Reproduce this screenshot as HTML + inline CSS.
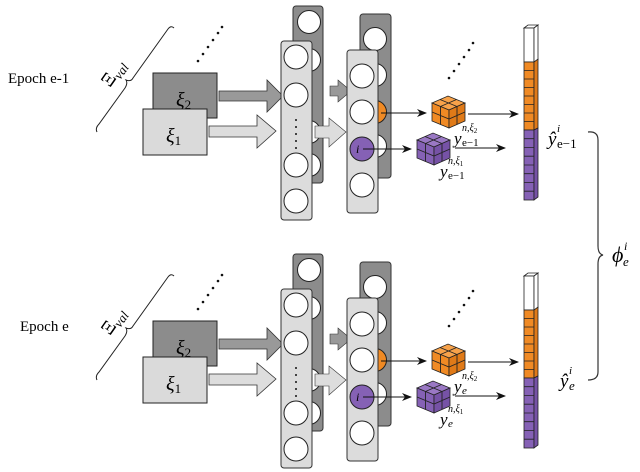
<!DOCTYPE html>
<html><head><meta charset="utf-8"><style>
html,body{margin:0;padding:0;background:#fff}
svg{display:block}
text{font-family:"Liberation Serif",serif}
</style></head><body>
<svg width="640" height="472" viewBox="0 0 640 472" xmlns="http://www.w3.org/2000/svg">
<defs>
<g id="cubeO">
  <polygon points="0,8 16,1 33,8 17,15" fill="#f7a24a" stroke="#222" stroke-width="0.8"/>
  <polygon points="0,8 17,15 17,33 0,26" fill="#f08a24" stroke="#222" stroke-width="0.8"/>
  <polygon points="17,15 33,8 33,26 17,33" fill="#e07a18" stroke="#222" stroke-width="0.8"/>
  <path d="M8,4.5 L25,11.5 M24.5,4.5 L8.5,11.5 M0,17 L17,24 L33,17 M8.5,11.5 V29.5 M25,11.5 V29.5" stroke="#222" stroke-width="0.9" fill="none"/>
</g>
<g id="cubeP">
  <polygon points="0,8 16,1 33,8 17,15" fill="#9a78c4" stroke="#222" stroke-width="0.8"/>
  <polygon points="0,8 17,15 17,33 0,26" fill="#8561b5" stroke="#222" stroke-width="0.8"/>
  <polygon points="17,15 33,8 33,26 17,33" fill="#7652a6" stroke="#222" stroke-width="0.8"/>
  <path d="M8,4.5 L25,11.5 M24.5,4.5 L8.5,11.5 M0,17 L17,24 L33,17 M8.5,11.5 V29.5 M25,11.5 V29.5" stroke="#222" stroke-width="0.9" fill="none"/>
</g>
<marker id="ah" markerWidth="10" markerHeight="8" refX="9" refY="4" orient="auto" markerUnits="userSpaceOnUse">
  <path d="M0,0 L10,4 L0,8 L3,4 z" fill="#111"/>
</marker>
<g id="half">
  <path d="M97,132 Q95,128 99,124 L125,88 Q128,83 126,80 Q131,82 133,78 L168,29 Q171,25 174,28" fill="none" stroke="#222" stroke-width="1"/>
  <text transform="translate(110,88) rotate(-55)" font-size="19">Ξ<tspan font-size="13" font-style="italic" dy="4">val</tspan></text>
  <g fill="#111">
    <circle cx="198" cy="61" r="1.3"/><circle cx="203" cy="54" r="1.3"/><circle cx="208" cy="47" r="1.3"/><circle cx="213" cy="40" r="1.3"/><circle cx="218" cy="33" r="1.3"/><circle cx="222" cy="27" r="1.3"/>
    <circle cx="449" cy="78" r="1.3"/><circle cx="454" cy="71" r="1.3"/><circle cx="459" cy="64" r="1.3"/><circle cx="464" cy="57" r="1.3"/><circle cx="469" cy="50" r="1.3"/><circle cx="473" cy="43" r="1.3"/>
  </g>
  <rect x="153" y="73" width="64" height="45" fill="#8c8c8c" stroke="#222" stroke-width="1"/>
  <text x="176" y="106" font-size="20" font-style="italic">ξ<tspan font-size="13" font-style="normal" dy="3">2</tspan></text>
  <rect x="143" y="109" width="64" height="46" fill="#dadada" stroke="#222" stroke-width="1"/>
  <text x="166" y="142" font-size="20" font-style="italic">ξ<tspan font-size="13" font-style="normal" dy="3">1</tspan></text>
  <polygon points="219,91 267,91 267,80 283,96 267,112 267,101 219,101" fill="#999" stroke="#333" stroke-width="0.8"/>
  <polygon points="209,126 257,126 257,115 276,131 257,148 257,137 209,137" fill="#ddd" stroke="#333" stroke-width="0.8"/>
  <rect x="293" y="6" width="30" height="177" rx="3" fill="#8c8c8c" stroke="#333" stroke-width="1"/>
  <g fill="#fff" stroke="#222" stroke-width="1">
    <circle cx="309" cy="22" r="11.5"/><circle cx="309" cy="60" r="11.5"/><circle cx="309" cy="132" r="11.5"/><circle cx="309" cy="165" r="11.5"/>
  </g>
  <polygon points="330,86 338,86 338,80 351,91 338,102 338,96 330,96" fill="#999" stroke="#333" stroke-width="0.6"/>
  <rect x="281" y="41" width="31" height="179" rx="3" fill="#dcdcdc" stroke="#333" stroke-width="1"/>
  <g fill="#fff" stroke="#222" stroke-width="1">
    <circle cx="296" cy="57" r="12"/><circle cx="296" cy="95" r="12"/><circle cx="296" cy="165" r="12"/><circle cx="296" cy="201" r="12"/>
  </g>
  <g fill="#111"><circle cx="296" cy="120" r="1"/><circle cx="296" cy="127" r="1"/><circle cx="296" cy="134" r="1"/><circle cx="296" cy="141" r="1"/><circle cx="296" cy="148" r="1"/></g>
  <polygon points="315,126 329,126 329,118 346,132 329,147 329,138 315,138" fill="#ddd" stroke="#333" stroke-width="0.6"/>
  <rect x="360" y="14" width="31" height="164" rx="3" fill="#8c8c8c" stroke="#333" stroke-width="1"/>
  <g stroke="#222" stroke-width="1">
    <circle cx="375" cy="39" r="11.5" fill="#fff"/><circle cx="375" cy="75" r="11.5" fill="#fff"/><circle cx="375" cy="112" r="11.5" fill="#f08a24"/><circle cx="375" cy="146" r="11.5" fill="#fff"/>
  </g>
  <rect x="347" y="50" width="31" height="163" rx="3" fill="#dcdcdc" stroke="#333" stroke-width="1"/>
  <g stroke="#222" stroke-width="1">
    <circle cx="362" cy="76" r="12" fill="#fff"/><circle cx="362" cy="112" r="12" fill="#fff"/><circle cx="362" cy="149" r="12" fill="#8561b5"/><circle cx="362" cy="185" r="12" fill="#fff"/>
  </g>
  <text x="356" y="153" font-size="12" font-style="italic">i</text>
  <line x1="381" y1="113" x2="426" y2="113" stroke="#111" stroke-width="1" marker-end="url(#ah)"/>
  <line x1="363" y1="149" x2="411" y2="149" stroke="#111" stroke-width="1" marker-end="url(#ah)"/>
  <use href="#cubeO" x="432" y="95"/>
  <use href="#cubeP" x="417" y="132"/>
  <line x1="468" y1="114" x2="518" y2="114" stroke="#111" stroke-width="1" marker-end="url(#ah)"/>
  <line x1="455" y1="148" x2="505" y2="148" stroke="#111" stroke-width="1" marker-end="url(#ah)"/>
  <g stroke="#222" stroke-width="0.8">
    <polygon points="524,28 528,25 538,25 534,28" fill="#fff"/>
    <rect x="524" y="28" width="10" height="34" fill="#fff"/>
    <polygon points="534,28 538,25 538,60 534,62" fill="#fff"/>
    <rect x="524" y="62" width="10" height="68" fill="#f08a24"/>
    <polygon points="534,62 538,59 538,128 534,130" fill="#e07a18"/>
    <rect x="524" y="130" width="10" height="70" fill="#8561b5"/>
    <polygon points="534,130 538,128 538,197 534,200" fill="#7652a6"/>
    <path d="M524,70.5H534M524,79H534M524,87.5H534M524,96H534M524,104.5H534M524,113H534M524,121.5H534M524,138.7H534M524,147.5H534M524,156.2H534M524,165H534M524,173.7H534M524,182.5H534M524,191.2H534" fill="none"/>
  </g>
</g>
</defs>
<text x="8" y="83" font-size="15">Epoch e-1</text>
<text x="20" y="331" font-size="15">Epoch e</text>
<use href="#half"/>
<use href="#half" y="248"/>
<g font-style="italic">
  <!-- top cube labels -->
  <text x="454" y="144" font-size="17">y</text>
  <text x="462" y="131" font-size="10">n,ξ<tspan font-size="7" font-style="normal" dy="2">2</tspan></text>
  <text x="462" y="146" font-size="11" font-style="normal">e−1</text>
  <text x="440" y="177" font-size="17">y</text>
  <text x="448" y="164" font-size="10">n,ξ<tspan font-size="7" font-style="normal" dy="2">1</tspan></text>
  <text x="448" y="179" font-size="11" font-style="normal">e−1</text>
  <text x="548" y="145" font-size="19">ŷ</text>
  <text x="557" y="132" font-size="11">i</text>
  <text x="557" y="148" font-size="13" font-style="normal">e−1</text>
  <!-- bottom -->
  <text x="454" y="392" font-size="17">y</text>
  <text x="462" y="379" font-size="10">n,ξ<tspan font-size="7" font-style="normal" dy="2">2</tspan></text>
  <text x="462" y="394" font-size="11">e</text>
  <text x="440" y="425" font-size="17">y</text>
  <text x="448" y="412" font-size="10">n,ξ<tspan font-size="7" font-style="normal" dy="2">1</tspan></text>
  <text x="448" y="427" font-size="11">e</text>
  <text x="560" y="387" font-size="19">ŷ</text>
  <text x="569" y="374" font-size="11">i</text>
  <text x="569" y="390" font-size="13">e</text>
  <text x="612" y="262" font-size="22">ϕ</text>
  <text x="624" y="250" font-size="12">i</text>
  <text x="623" y="266" font-size="13">e</text>
</g>
<path d="M588,132 Q598,131 598,140 L598,246 Q598,254 603,255 Q598,256 598,264 L598,372 Q598,380 588,380" fill="none" stroke="#333" stroke-width="1.2"/>
</svg>
</body></html>
